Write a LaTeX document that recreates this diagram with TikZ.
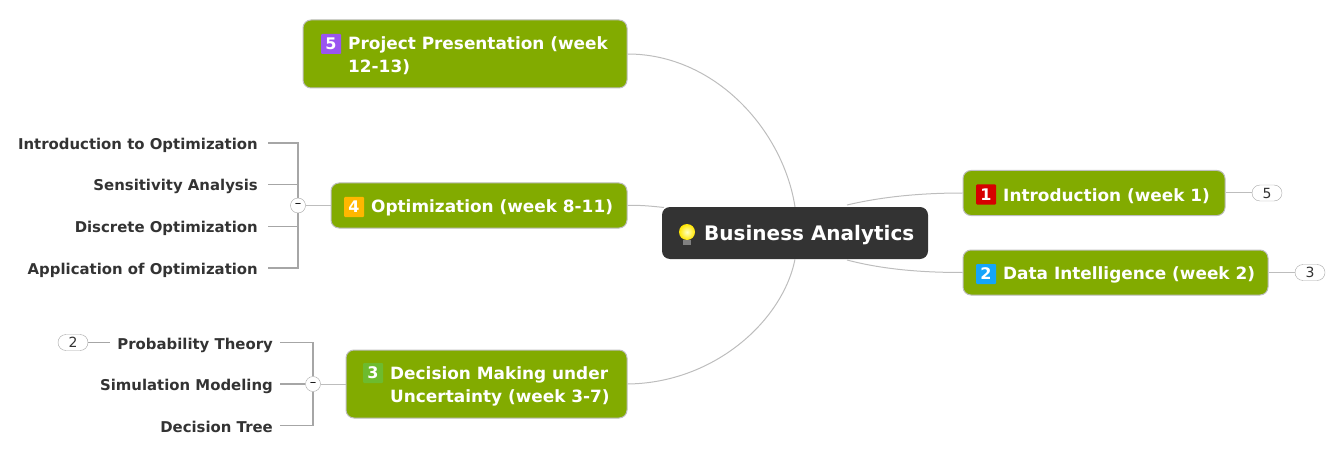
\documentclass[tikz,border=0pt]{standalone}
\usepackage{fontspec}
\setmainfont{DejaVu Sans}
\definecolor{topicgreen}{HTML}{82AB00}
\definecolor{edgegrey}{HTML}{BDBDBD}
\definecolor{leafgrey}{HTML}{A6A6A6}
\definecolor{inkdark}{HTML}{333333}
\definecolor{badgefive}{HTML}{9A55F0}
\definecolor{badgefour}{HTML}{FFB700}
\definecolor{badgethree}{HTML}{6DBB2E}
\definecolor{badgeone}{HTML}{D60000}
\definecolor{badgetwo}{HTML}{14A5FA}
\tikzset{
  topicbox/.style={draw=edgegrey, line width=1pt, fill=topicgreen, rounded corners=8pt, minimum width=#1, inner sep=0pt},
  topictext/.style={text=white, font=\bfseries\fontsize{16.9}{23}\selectfont, inner sep=0pt, align=left, anchor=west},
  badge/.style={fill=#1, rounded corners=1pt, minimum size=20pt, inner sep=0pt, text=white, font=\bfseries\fontsize{16}{16}\selectfont},
  leaf/.style={text=inkdark, font=\bfseries\fontsize{14.9}{18}\selectfont, anchor=east, inner ysep=0pt, inner xsep=#1, text height=13pt, text depth=0pt},
  fork/.style={draw=leafgrey, fill=white, circle, minimum size=15pt, inner sep=0pt, font=\fontsize{13}{13}\selectfont},
  count/.style={draw=leafgrey, fill=white, rounded corners=8pt, minimum width=30pt, minimum height=16pt, inner sep=0pt, text=inkdark, font=\fontsize{14}{14}\selectfont},
  curve/.style={draw=edgegrey, line width=1pt},
  branch/.style={draw=leafgrey, line width=1.1pt}
}
\begin{document}
\begin{tikzpicture}[x=1pt,y=-1pt]
\useasboundingbox (0,0) rectangle (1335,449);
%%%%%%%%%%%%%%%%%%%%%%%%%%%%%%%
% central topic
%%%%%%%%%%%%%%%%%%%%%%%%%%%%%%%
\node [fill=inkdark, rounded corners=8pt, minimum width=266pt, minimum height=52pt, inner sep=0pt] (central) at (795,233) {};
\node [text=white, font=\bfseries\fontsize{20}{24}\selectfont, inner sep=0pt, anchor=west] (centraltext) at (704,235) {Business Analytics};
\shade [inner color=yellow!25, outer color=yellow!80!orange] (687,232) circle [radius=8];
\fill [gray] (683,240) rectangle (691,245);
%
\coordinate (optimizationroot) at (664,207.5);
\coordinate (introroot) at (847,205);
\coordinate (dataroot) at (847,260);
%%%%%%%%%%%%%%%%%%%%%%%%%%%%%%%
% main topics
%%%%%%%%%%%%%%%%%%%%%%%%%%%%%%%
\node [topicbox=324pt, minimum height=68pt] (project) at (465,54) {};
\node [badge=badgefive] (projectbadge) at (331,44) {5};
\node [topictext] (projecttext) at (348,56) {Project Presentation (week\\12-13)};
%
\node [topicbox=296pt, minimum height=45pt] (optimization) at (479,205.5) {};
\node [badge=badgefour] (optimizationbadge) at (354,207) {4};
\node [topictext] (optimizationtext) at (371,208) {Optimization (week 8-11)};
%
\node [topicbox=281pt, minimum height=68pt] (decision) at (486.5,384) {};
\node [badge=badgethree] (decisionbadge) at (373,373) {3};
\node [topictext] (decisiontext) at (390,386) {Decision Making under\\Uncertainty (week 3-7)};
%
\node [topicbox=262pt, minimum height=45pt] (intro) at (1094,193) {};
\node [badge=badgeone] (introbadge) at (986,194.5) {1};
\node [topictext] (introtext) at (1003,196) {Introduction (week 1)};
%
\node [topicbox=305pt, minimum height=45pt] (data) at (1115.5,272.5) {};
\node [badge=badgetwo] (databadge) at (986,274) {2};
\node [topictext] (datatext) at (1003,275) {Data Intelligence (week 2)};
%
\draw [curve] (project.east) .. controls (715,54) and (783,130) .. (central.north);
\draw [curve] (optimization.east) .. controls (640,205) and (650,206) .. (optimizationroot);
\draw [curve] (decision.east) .. controls (715,383) and (783,320) .. (central.south);
\draw [curve] (introroot) .. controls (885,196) and (925,193) .. (intro.west);
\draw [curve] (dataroot) .. controls (885,270) and (925,272.5) .. (data.west);
%%%%%%%%%%%%%%%%%%%%%%%%%%%%%%%
% left subtopics
%%%%%%%%%%%%%%%%%%%%%%%%%%%%%%%
\node [fork] (optimizationfork) at (298,205.5) {–};
\node [leaf=10pt] (leafa) at (268,143) {Introduction to Optimization};
\node [leaf=10pt] (leafb) at (268,184.5) {Sensitivity Analysis};
\node [leaf=10pt] (leafc) at (268,226.5) {Discrete Optimization};
\node [leaf=10pt] (leafd) at (268,268) {Application of Optimization};
%
\draw [branch] (leafa.east) -| (optimizationfork.north);
\draw [branch] (leafb.east) -| (optimizationfork.north);
\draw [branch] (leafc.east) -| (optimizationfork.south);
\draw [branch] (leafd.east) -| (optimizationfork.south);
\draw [curve] (optimizationfork.east) -- (optimization.west);
%
\node [fork] (decisionfork) at (313,384) {–};
\node [leaf=7pt] (leafe) at (280,342.5) {Probability Theory};
\node [leaf=7pt] (leaff) at (280,384) {Simulation Modeling};
\node [leaf=7pt] (leafg) at (280,425.5) {Decision Tree};
%
\draw [branch] (leafe.east) -| (decisionfork.north);
\draw [branch] (leaff.east) -- (decisionfork.west);
\draw [branch] (leafg.east) -| (decisionfork.south);
\draw [curve] (decisionfork.east) -- (decision.west);
%%%%%%%%%%%%%%%%%%%%%%%%%%%%%%%
% collapsed counts
%%%%%%%%%%%%%%%%%%%%%%%%%%%%%%%
\node [count] (counte) at (73,342.5) {2};
\node [count] (countintro) at (1267,193) {5};
\node [count] (countdata) at (1310,272.5) {3};
%
\draw [branch] (counte.east) -- (leafe.west);
\draw [curve] (intro.east) -- (countintro.west);
\draw [curve] (data.east) -- (countdata.west);
\end{tikzpicture}
\end{document}
